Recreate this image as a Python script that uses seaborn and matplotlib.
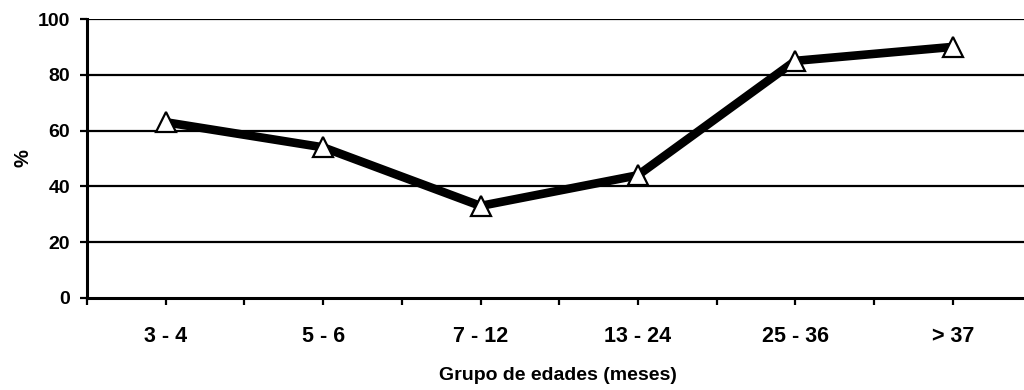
import numpy as np
import pandas as pd
import matplotlib
matplotlib.use("Agg")
import matplotlib.pyplot as plt
import seaborn as sns
from matplotlib.ticker import FixedLocator

categories = ["3 - 4", "5 - 6", "7 - 12", "13 - 24", "25 - 36", "> 37"]
values = [63, 54, 33, 44, 85, 90]
y_ticks = [0, 20, 40, 60, 80, 100]
x_label = "Grupo de edades (meses)"
y_label = "%"

sns.set_theme(style="white")
plt.rcParams['font.family'] = ['Liberation Sans', 'DejaVu Sans']
plt.rcParams['font.weight'] = 'bold'

fig = plt.figure(figsize=(10.24, 3.9), dpi=100)
L, R, B, T = 87, 1024, 298, 19
ax = fig.add_axes([L / 1024, (390 - B) / 390, (R - L) / 1024, (B - T) / 390])

df = pd.DataFrame({"pos": np.arange(len(categories)), "val": values})

for yv in y_ticks[1:]:
    ax.axhline(yv, color="black", lw=1.6, zorder=1)

sns.lineplot(data=df, x="pos", y="val", ax=ax, color="black", linewidth=6.2,
             marker="^", markersize=15, markerfacecolor="white",
             markeredgecolor="black", markeredgewidth=1.6, zorder=3)

ax.set_xlim(-0.5, -0.5 + (R - L) / 157.4)
ax.set_ylim(0, 100)

ax.xaxis.set_major_locator(FixedLocator(list(range(len(categories)))))
ax.set_xticklabels(categories)
ax.xaxis.set_minor_locator(FixedLocator([i - 0.5 for i in range(len(categories) + 1)]))
ax.set_yticks(y_ticks)

for s in ["top", "right"]:
    ax.spines[s].set_visible(False)
for s in ["left", "bottom"]:
    ax.spines[s].set_color("black")
    ax.spines[s].set_linewidth(2.2)

ax.tick_params(axis="x", which="both", direction="out", length=5, width=1.6,
               color="black", bottom=True)
ax.tick_params(axis="x", which="major", pad=15, labelsize=15.5)
ax.tick_params(axis="y", which="major", direction="out", length=5, width=1.6,
               color="black", left=True, pad=7, labelsize=14)
for lbl in ax.get_xticklabels() + ax.get_yticklabels():
    lbl.set_fontweight("bold")
    lbl.set_color("black")

ax.set_xlabel(x_label, fontsize=14, fontweight="bold", color="black")
ax.xaxis.set_label_coords((558 - L) / (R - L), -(376 - B) / (B - T))
ax.xaxis.label.set_va("center")
ax.set_ylabel(y_label, fontsize=14.5, fontweight="bold", color="black")
ax.yaxis.set_label_coords((23 - L) / (R - L), 0.5)
ax.yaxis.label.set_va("center")

fig.savefig("out.png", dpi=100, facecolor="white")
